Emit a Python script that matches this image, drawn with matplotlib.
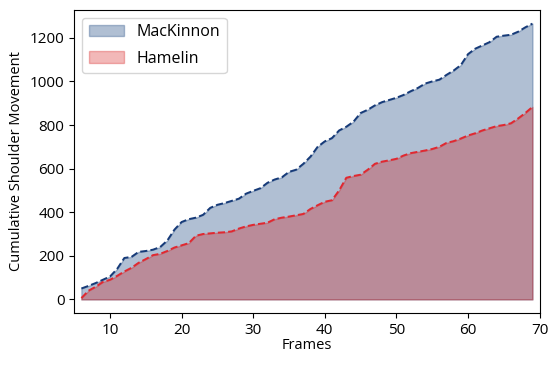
import matplotlib
matplotlib.use("Agg")
import matplotlib.pyplot as plt
import numpy as np

frames = list(range(6, 70))

mackinnon = [50, 62, 75, 90, 105, 140, 190, 195, 218, 222,
             228, 240, 270, 320, 355, 368, 375, 388, 420, 434,
             442, 452, 462, 485, 498, 510, 535, 550, 560, 585,
             595, 622, 655, 700, 725, 740, 775, 792, 815, 855,
             870, 890, 905, 915, 925, 938, 955, 970, 990, 1000,
             1008, 1030, 1050, 1075, 1125, 1150, 1165, 1180, 1205, 1210,
             1214, 1228, 1248, 1265]

hamelin = [6, 40, 58, 80, 90, 108, 128, 145, 168, 185,
           203, 209, 222, 238, 248, 258, 292, 300, 303, 306,
           308, 312, 325, 335, 342, 347, 352, 368, 375, 380,
           386, 392, 415, 432, 448, 455, 500, 558, 566, 572,
           595, 622, 632, 638, 645, 660, 671, 677, 683, 690,
           700, 718, 726, 738, 752, 762, 775, 785, 795, 800,
           808, 830, 855, 883]

plt.rcParams['font.family'] = ['Open Sans', 'DejaVu Sans']

fig = plt.figure(figsize=(5.58, 3.65), dpi=100)
ax = fig.add_subplot(1, 1, 1)

blue_fill = (58/255, 95/255, 145/255)
red_fill = (212/255, 20/255, 20/255)

ax.fill_between(frames, mackinnon, color=blue_fill, alpha=0.4, label="MacKinnon")
ax.plot(frames, mackinnon, color="#163a78", linestyle="--", linewidth=1.4)
ax.fill_between(frames, hamelin, color=red_fill, alpha=0.3, label="Hamelin")
ax.plot(frames, hamelin, color="#e02830", linestyle="--", linewidth=1.4)

ax.set_xlim(5, 70)
ax.set_xlabel("Frames", fontsize=10.5, labelpad=0)
ax.set_ylabel("Cumulative Shoulder Movement", fontsize=10.5)
ax.tick_params(labelsize=11)
ax.legend(loc="upper left", fontsize=11.5, handlelength=2.2, labelspacing=0.65)

plt.subplots_adjust(left=0.133, right=0.967, top=0.973, bottom=0.142)
plt.savefig("out.png", dpi=100)
